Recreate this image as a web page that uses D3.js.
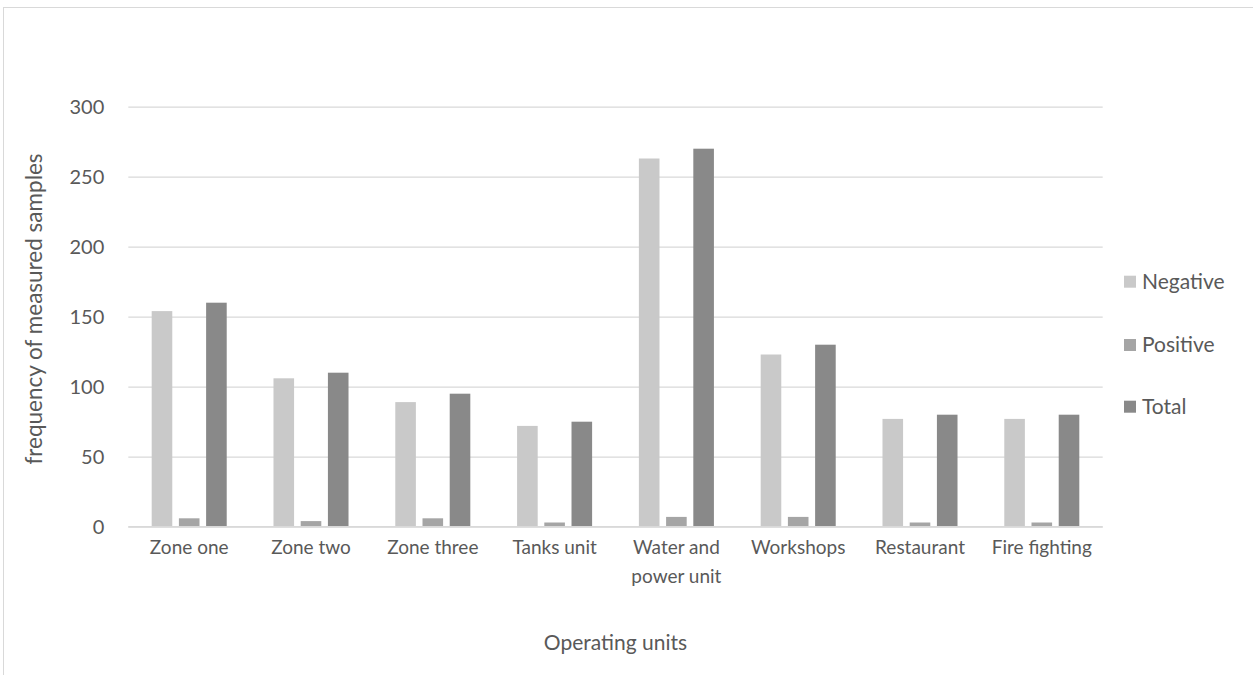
<!DOCTYPE html>
<html><head><meta charset="utf-8">
<script src="https://cdn.jsdelivr.net/npm/d3@7"></script>
<style>
html,body{margin:0;padding:0;background:#fff;}
svg{display:block;font-family:Lato,"Open Sans",sans-serif;}
</style></head>
<body><svg id="chart" width="1253" height="675"></svg>
<script>
const categories = ["Zone one","Zone two","Zone three","Tanks unit","Water and power unit","Workshops","Restaurant","Fire fighting"];
const seriesNames = ["Negative","Positive","Total"];
const negative = [154,106,89,72,263,123,77,77];
const positive = [6,4,6,3,7,7,3,3];
const total = [160,110,95,75,270,130,80,80];
const yTicks = [0,50,100,150,200,250,300];
const colors = ["#c9c9c9","#a5a5a5","#898989"];

const seriesValues = [negative, positive, total];
const svg = d3.select("#chart");
const W = 1253, H = 675;
const m = {left:128.3, right:1102.7, top:106.7, bottom:526.7};

// outer frame
svg.append("rect").attr("x",3.5).attr("y",7.5).attr("width",W+10).attr("height",H+10)
  .attr("fill","none").attr("stroke","#d9d9d9").attr("stroke-width",1);

const x = d3.scaleBand().domain(categories).range([m.left,m.right]).paddingInner(0.384).paddingOuter(0.192);
const xs = d3.scaleBand().domain(seriesNames).range([0,x.bandwidth()]).paddingInner(0.243).paddingOuter(0);
const y = d3.scaleLinear().domain([0,300]).range([m.bottom,m.top]);

// gridlines
const yAxis = d3.axisLeft(y).tickValues(yTicks).tickSize(-(m.right-m.left)).tickPadding(24);
const gy = svg.append("g").attr("transform",`translate(${m.left},0)`).call(yAxis);
gy.select(".domain").remove();
gy.selectAll(".tick line").attr("stroke","#d9d9d9").attr("stroke-width",1.3);
gy.selectAll(".tick text").attr("fill","#595959").style("font-size","20px").style("font-family","Lato");

// bars
const rows = categories.map((c,i)=>({cat:c, vals: seriesNames.map((s,j)=>({s, v: seriesValues[j][i], j}))}));
const g = svg.append("g");
const grp = g.selectAll("g.cat").data(rows).join("g").attr("transform",d=>`translate(${x(d.cat)},0)`);
grp.selectAll("rect").data(d=>d.vals).join("rect")
  .attr("x",d=>xs(d.s)).attr("width",xs.bandwidth())
  .attr("y",d=>y(d.v)).attr("height",d=>y(0)-y(d.v))
  .attr("fill",d=>colors[d.j]);

// x axis
const xAxis = d3.axisBottom(x).tickSize(0).tickPadding(14);
const gx = svg.append("g").attr("transform",`translate(0,${m.bottom})`).call(xAxis);
gx.select(".domain").attr("stroke","#d9d9d9").attr("stroke-width",1.5).attr("d",`M${m.left},0H${m.right}`);
gx.selectAll(".tick text").attr("fill","#595959").style("font-size","19px").style("font-family","Lato")
  .each(function(d){
    const t = d3.select(this);
    const words = d.split(" ");
    if (words.length>2 && this.getComputedTextLength() > x.step()*1.05) {
      t.text(null);
      const l1 = words.slice(0,2).join(" "), l2 = words.slice(2).join(" ");
      t.append("tspan").attr("x",0).attr("dy","0.71em").text(l1);
      t.append("tspan").attr("x",0).attr("dy","1.5em").text(l2);
      t.attr("dy",null);
    }
  });

// axis titles
svg.append("text").attr("x",(m.left+m.right)/2).attr("y",650)
  .attr("text-anchor","middle").attr("fill","#595959").style("font-size","21px").text("Operating units");
svg.append("text").attr("transform","translate(42,309) rotate(-90)")
  .attr("text-anchor","middle").attr("fill","#595959").style("font-size","22.5px").text("frequency of measured samples");

// legend
const lg = svg.append("g");
const ly = [281.7,345,406.7];
seriesNames.forEach((s,i)=>{
  lg.append("rect").attr("x",1124).attr("y",ly[i]-6).attr("width",12).attr("height",12).attr("fill",colors[i]);
  lg.append("text").attr("x",1142).attr("y",ly[i]).attr("dy","0.35em").attr("fill","#595959")
    .style("font-size","21px").text(s);
});
</script></body></html>
